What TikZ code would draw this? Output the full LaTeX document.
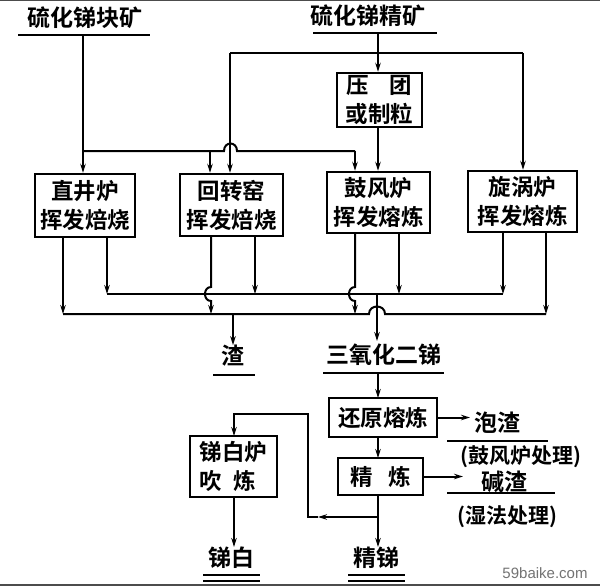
\documentclass[tikz,border=0pt]{standalone}
\usepackage{fontspec}
\setmainfont{Noto Sans CJK SC}[BoldFont={Noto Sans CJK SC Bold}]
\newfontfamily\latinsans{Liberation Sans}
\usetikzlibrary{arrows.meta}
\begin{document}
\begin{tikzpicture}[x=1pt,y=-1pt,
  flow/.style={line width=2pt},
  arr/.style={flow,-{Stealth[length=9pt,width=5.5pt]}},
  box/.style={draw,line width=2.4pt,inner sep=0pt,align=center,font=\bfseries\fontsize{22.5}{29}\selectfont},
  lab/.style={inner sep=0pt,font=\bfseries\fontsize{23}{26}\selectfont},
  note/.style={inner sep=0pt,font=\bfseries\fontsize{21}{24}\selectfont},
  uline/.style={line width=2.2pt}]
\useasboundingbox (0,0) rectangle (600,586);
\fill[white] (0,0) rectangle (600,586);
\fill[black!70] (0,0) rectangle (600,1.5);
\fill[black!70] (0,584) rectangle (600,586);

% top labels
\node[lab] (ore1) at (85,18) {硫化锑块矿};
\draw[uline] (18,35) -- (150,35);
\coordinate (u1) at (83,35);
\node[lab] (ore2) at (368,16) {硫化锑精矿};
\draw[uline] (313,33) -- (437,33);
\coordinate (u2) at (378,33);

% boxes
\node[box,minimum width=85,minimum height=54] (press) at (379.5,100) {压\hspace{0.9em}团\\或制粒};
\node[box,minimum width=100,minimum height=63] (f1) at (85,205.5) {直井炉\\挥发焙烧};
\node[box,minimum width=103,minimum height=62] (f2) at (231.5,205) {回转窑\\挥发焙烧};
\node[box,minimum width=103,minimum height=61] (f3) at (378.5,202.5) {鼓风炉\\挥发熔炼};
\node[box,minimum width=109,minimum height=61] (f4) at (522.5,201.5) {旋涡炉\\挥发熔炼};

% feed lines
\coordinate (j1) at (83,151);
\coordinate (j2) at (378,53);
\coordinate (a2) at (210,151);
\coordinate (b2) at (230,53);
\coordinate (c3) at (355,151);
\coordinate (d4) at (523,53);
\draw[arr] (u1) -- (u1 |- f1.north);
\draw[flow] (j1) -- (224,151) .. controls (224,141) and (237,141) .. (237,151) -- (c3);
\draw[arr] (a2) -- (a2 |- f2.north);
\draw[arr] (c3) -- (c3 |- f3.north);
\draw[arr] (u2) -- (u2 |- press.north);
\draw[flow] (b2) -- (d4);
\draw[arr] (b2) -- (b2 |- f2.north);
\draw[arr] (d4) -- (d4 |- f4.north);
\draw[arr] (press.south -| u2) -- (u2 |- f3.north);

% output collecting lines
\coordinate (uL) at (107,294);
\coordinate (uR) at (503,294);
\coordinate (lL) at (63,314);
\coordinate (lR) at (546,314);
\draw[flow] (uL) -- (uR);
\draw[flow] (lL) -- (369,314) .. controls (369,304) and (385,304) .. (385,314) -- (lR);
\draw[arr] (f1.south -| lL) -- (lL);
\draw[arr] (f1.south -| uL) -- (uL);
\draw[arr] (f2.south -| 211,0) -- (211,287) .. controls (203,287) and (203,301) .. (211,301) -- (211,314);
\draw[arr] (f2.south -| 255,0) -- (255,294);
\draw[arr] (f3.south -| 355,0) -- (355,287) .. controls (347,287) and (347,301) .. (355,301) -- (355,314);
\draw[arr] (f3.south -| 399,0) -- (399,294);
\draw[arr] (f4.south -| uR) -- (uR);
\draw[arr] (f4.south -| lR) -- (lR);

% products
\node[lab] (slag) at (233,356) {渣};
\draw[uline] (213,375) -- (255,375);
\node[lab] (sbo) at (384,355) {三氧化二锑};
\draw[uline] (323,373) -- (444,373);
\draw[arr] (233,314) -- (slag.north);
\draw[arr] (377,294) -- (377,341);

% refining
\node[box,minimum width=108,minimum height=39] (red) at (383,417.5) {还原熔炼};
\node[box,minimum width=85,minimum height=37] (ref) at (380.5,476.5) {精\hspace{0.7em}炼};
\node[box,minimum width=87,minimum height=61,align=left] (wf) at (233.5,466.5) {锑白炉\\吹\hspace{0.5em}炼};
\draw[arr] (378,373) -- (378,398);
\draw[arr] (378,437) -- (378,458);

\node[lab] (sbw) at (231,558) {锑白};
\draw[uline] (203,575) -- (260,575);
\draw[uline] (203,581) -- (260,581);
\node[lab] (sbp) at (376,558) {精锑};
\draw[uline] (348,575) -- (405,575);
\draw[uline] (348,581) -- (405,581);

\coordinate (j3) at (378,517);
\coordinate (m3) at (318,517);
\draw[arr] (378,495) -- (sbp.north -| 378,0);
\draw[arr] (j3) -- (m3);
\draw[arr] (m3) -- (308,517) -- (308,414) -- (234,414) -- (234,436);
\draw[arr] (234,497) -- (sbw.north -| 234,0);

% by-products
\node[lab] (foam) at (497,423) {泡渣};
\draw[uline] (447,441) -- (548,441);
\node[note] (n1) at (521,457) {(鼓风炉处理)};
\node[lab] (alk) at (504,482) {碱渣};
\draw[uline] (447,493) -- (555,493);
\node[note] (n2) at (507,517) {(湿法处理)};
\draw[arr] (red.east) -- (470,417.5);
\draw[arr] (ref.east) -- (463,476.5);

\node[inner sep=0pt,text=black!55,font=\latinsans\fontsize{15}{17}\selectfont] (wm) at (545,573) {59baike.com};
\end{tikzpicture}
\end{document}
